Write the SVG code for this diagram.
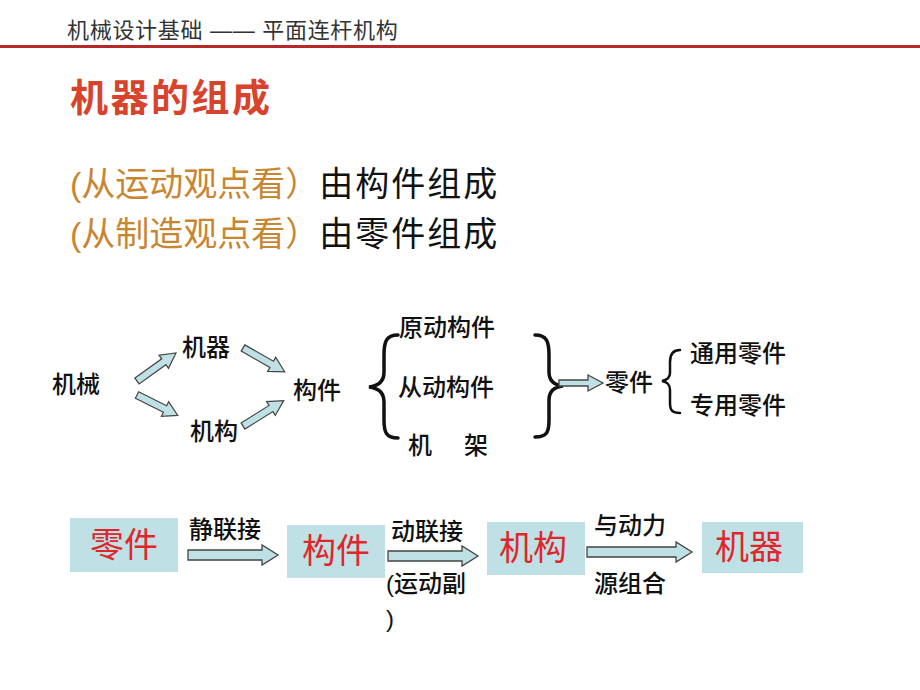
<svg xmlns="http://www.w3.org/2000/svg" xmlns:xlink="http://www.w3.org/1999/xlink" width="920" height="690" viewBox="0 0 920 690">
<style>
text{font-family:"Liberation Sans","Noto Sans CJK SC",sans-serif;}
.hdr{font-size:22px;fill:#333;letter-spacing:0.7px;}
.title{font-size:38px;fill:#d8432b;font-weight:bold;letter-spacing:2.5px;}
.orange{fill:#c98630;}
.black{fill:#111;letter-spacing:2px;}
.line{font-size:34px;}
.lbl{font-size:24px;fill:#111;font-weight:500;}
.big{font-size:34px;fill:#e0262b;}
.box{fill:#bfe1e5;}
.arr{fill:#bfe1e5;stroke:#444;stroke-width:1.3;stroke-linejoin:miter;}
.brace{fill:none;stroke:#111;stroke-width:3.5;stroke-linecap:round;}
</style>
<defs>
<path id="ba" d="M0,-4 H33 V-9 L48,0 L33,9 V4 H0 Z"/>
</defs>
<rect width="920" height="690" fill="#fff"/>
<g id="header">
<text class="hdr" x="67" y="38">机械设计基础 —— 平面连杆机构</text>
<rect x="0" y="45" width="920" height="3" fill="#b8282a"/>
</g>
<g id="title"><text class="title" x="70" y="111">机器的组成</text></g>
<g id="line1"><text class="line" x="70" y="196"><tspan class="orange">(从运动观点看）</tspan><tspan class="black">由构件组成</tspan></text></g>
<g id="line2"><text class="line" x="70" y="246"><tspan class="orange">(从制造观点看）</tspan><tspan class="black">由零件组成</tspan></text></g>

<g id="n-jixie"><text class="lbl" x="52" y="393">机械</text></g>
<g id="n-jiqi"><text class="lbl" x="182" y="356">机器</text></g>
<g id="n-jigou"><text class="lbl" x="190" y="440">机构</text></g>
<g id="n-goujian"><text class="lbl" x="293" y="399">构件</text></g>
<g id="n-types">
<text class="lbl" x="399" y="336">原动构件</text>
<text class="lbl" x="398" y="396">从动构件</text>
<text class="lbl" x="408" y="454">机</text>
<text class="lbl" x="464" y="454">架</text>
<path class="brace" d="M398,335 C386,335 384,342 384,355 L384,372 C384,382 378,386 369,387 C378,388 384,392 384,402 L384,420 C384,432 386,438 398,438"/>
<path class="brace" d="M535,335 C547,335 549,342 549,355 L549,372 C549,381 554,385 563,386 C554,387 549,391 549,400 L549,420 C549,432 547,437 535,437"/>
</g>
<g id="n-lingjian">
<text class="lbl" x="605" y="391">零件</text>
<path class="brace" style="stroke-width:2.5" d="M680,350 C672,350 670,355 670,362 L670,373 C670,378 667,380 662,381 C667,382 670,384 670,390 L670,403 C670,410 672,413 680,413"/>
<text class="lbl" x="690" y="362">通用零件</text>
<text class="lbl" x="690" y="414">专用零件</text>
</g>

<g id="b-lingjian"><rect class="box" x="70" y="518" width="108" height="54"/><text class="big" x="124" y="557" text-anchor="middle">零件</text></g>
<g id="b-goujian"><rect class="box" x="287" y="525" width="98" height="53"/><text class="big" x="336" y="563" text-anchor="middle">构件</text></g>
<g id="b-jigou"><rect class="box" x="487" y="522" width="98" height="53"/><text class="big" x="533" y="560" text-anchor="middle">机构</text></g>
<g id="b-jiqi"><rect class="box" x="702" y="522" width="101" height="51"/><text class="big" x="749" y="559" text-anchor="middle">机器</text></g>

<g id="connectors">
<use xlink:href="#ba" class="arr" transform="translate(137,381) rotate(-35.7) scale(1,0.9)"/>
<use xlink:href="#ba" class="arr" transform="translate(137,395) rotate(26.6) scale(0.95,0.9)"/>
<use xlink:href="#ba" class="arr" transform="translate(243,348) rotate(29.7) scale(1,0.9)"/>
<use xlink:href="#ba" class="arr" transform="translate(243,426) rotate(-32) scale(1,0.9)"/>
<path class="arr" d="M559,380 H588 V375 L603,383 L588,391 V386 H559 Z"/>
<path class="arr" d="M188,550 H262 V545 L278,555 L262,565 V560 H188 Z"/>
<path class="arr" d="M388,551 H462 V546 L478,556 L462,566 V561 H388 Z"/>
<path class="arr" d="M587,547 H676 V542 L692,552 L676,562 V557 H587 Z"/>
<text class="lbl" x="189" y="538">静联接</text>
<text class="lbl" x="391" y="540">动联接</text>
<text class="lbl" x="386" y="592">(运动副</text>
<text class="lbl" x="386" y="627">)</text>
<text class="lbl" x="594" y="534">与动力</text>
<text class="lbl" x="594" y="592">源组合</text>
</g>
</svg>
